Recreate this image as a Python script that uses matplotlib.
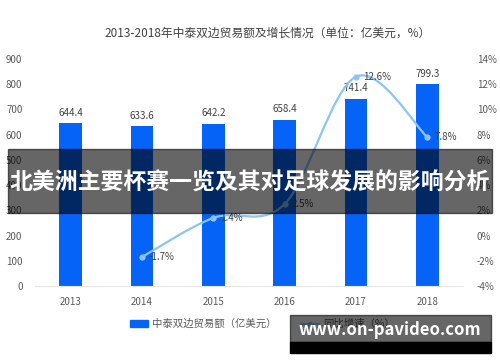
import numpy as np
import matplotlib.pyplot as plt
from matplotlib.path import Path
from matplotlib.patches import PathPatch, Rectangle
from matplotlib.lines import Line2D

plt.rcParams['font.family'] = ['Noto Sans CJK SC', 'DejaVu Sans']

years = ['2013', '2014', '2015', '2016', '2017', '2018']
trade = [644.4, 633.6, 642.2, 658.4, 741.4, 799.3]
growth_years = ['2014', '2015', '2016', '2017', '2018']
growth = [-1.7, 1.4, 2.5, 12.6, 7.8]
left_ticks = [0, 100, 200, 300, 400, 500, 600, 700, 800, 900]
right_ticks = [-4, -2, 0, 2, 4, 6, 8, 10, 12, 14]

bar_color = '#0564f7'
line_color = '#8cc4fa'
txt = '#595959'

fig = plt.figure(figsize=(5, 3.62), dpi=100)
ax = fig.add_axes([0.07, 0.21, 0.856, 0.627])
ax2 = ax.twinx()

x = np.arange(len(years))
ax.bar(x, trade, width=0.32, color=bar_color, zorder=2)
for xi, v in zip(x, trade):
    ax.annotate(f'{v:.1f}', (xi, v), xytext=(0, 4), textcoords='offset points',
                ha='center', va='bottom', fontsize=7, color='#404040')

ax.set_xlim(-0.5, len(years) - 0.5)
ax.set_ylim(0, 900)
ax.set_yticks(left_ticks)
ax.set_xticks(x)
ax.set_xticklabels(years)
ax.tick_params(axis='y', length=0, pad=9, labelsize=7, labelcolor=txt)
ax.tick_params(axis='x', length=0, pad=8, labelsize=7, labelcolor=txt)
for s in ['top', 'right', 'left']:
    ax.spines[s].set_visible(False)
ax.spines['bottom'].set_color('#e6e6e6')

# smooth growth line (Catmull-Rom through the data points)
gx = np.array([years.index(y) for y in growth_years], dtype=float)
gy = np.array(growth, dtype=float)
px = np.concatenate([[gx[0]], gx, [gx[-1]]])
py = np.concatenate([[gy[0]], gy, [gy[-1]]])
verts = [(gx[0], gy[0])]
codes = [Path.MOVETO]
for i in range(1, len(px) - 2):
    c1 = (px[i] + (px[i + 1] - px[i - 1]) / 6, py[i] + (py[i + 1] - py[i - 1]) / 6)
    c2 = (px[i + 1] - (px[i + 2] - px[i]) / 6, py[i + 1] - (py[i + 2] - py[i]) / 6)
    verts += [c1, c2, (px[i + 1], py[i + 1])]
    codes += [Path.CURVE4] * 3
ax2.add_patch(PathPatch(Path(verts, codes), fill=False, edgecolor=line_color, lw=1.6, zorder=3))
ax2.plot(gx, gy, 'o', color=line_color, markersize=3.5, zorder=4)
for xi, v in zip(gx, gy):
    ax2.annotate(f'{v:.1f}%', (xi, v), xytext=(5, 0), textcoords='offset points',
                 ha='left', va='center', fontsize=7, color='#404040')

ax2.set_ylim(-4, 14)
ax2.set_yticks(right_ticks)
ax2.set_yticklabels([f'{t}%' for t in right_ticks])
ax2.tick_params(axis='y', length=0, pad=10, labelsize=7, labelcolor=txt)
for s in ['top', 'right', 'left', 'bottom']:
    ax2.spines[s].set_visible(False)

fig.text(0.535, 0.908, '2013-2018年中泰双边贸易额及增长情况（单位：亿美元，%）',
         ha='center', va='center', fontsize=8.5, color='#404040')

# legend
handles = [Rectangle((0, 0), 1, 1, color=bar_color),
           Line2D([0], [0], color=line_color, marker='o', markersize=3, lw=1.2)]
fig.legend(handles, ['中泰双边贸易额（亿美元）', '同比增速（%）'], loc='center',
           bbox_to_anchor=(0.525, 0.105), ncol=2, frameon=False, fontsize=7.5,
           handlelength=1.7, handletextpad=0.4, columnspacing=2.4, labelcolor=txt)

# overlay banner
fig.patches.append(Rectangle((0.016, 0.412), 0.968, 0.177, transform=fig.transFigure,
                             color='black', alpha=0.6, zorder=10))
fig.text(0.5, 0.494, '北美洲主要杯赛一览及其对足球发展的影响分析', ha='center', va='center',
         fontsize=16.5, color='white', fontweight='bold', zorder=11)

# watermark
fig.patches.append(Rectangle((0.58, 0.025), 0.402, 0.03, transform=fig.transFigure,
                             color='black', zorder=10))
fig.patches.append(Rectangle((0.58, 0.055), 0.402, 0.075, transform=fig.transFigure,
                             color='black', alpha=0.6, zorder=10))
fig.text(0.78, 0.088, 'www.on-pavideo.com', ha='center', va='center',
         fontsize=12, color='white', fontweight='bold', zorder=11)

fig.savefig('out.png', dpi=100)
